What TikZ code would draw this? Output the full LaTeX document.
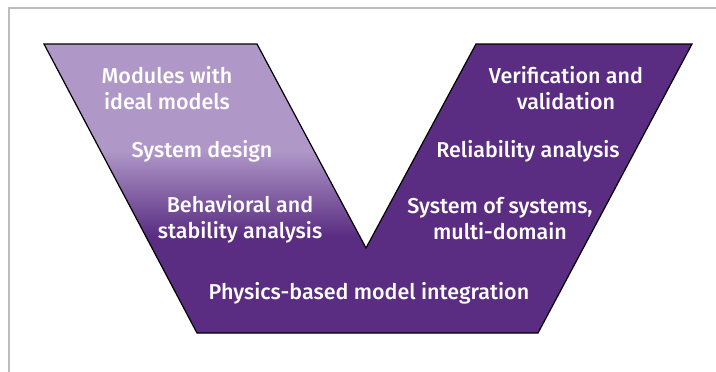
\documentclass[tikz,border=0pt]{standalone}
\usepackage{fontspec}
\setmainfont{Fira Sans}[UprightFont=* Medium]
\definecolor{vdark}{HTML}{5A2D82}
\definecolor{vlight}{HTML}{AF97C7}
\definecolor{framegray}{HTML}{BDBDBD}
\begin{document}
\begin{tikzpicture}[x=1pt,y=-1pt,
  lbl/.style={text=white, font=\fontsize{21.5}{26}\selectfont, align=center, inner sep=0pt},
  vline/.style={draw=black, line width=1.2pt, line join=miter}]
\useasboundingbox (0,0) rectangle (716,372);
\draw[framegray, line width=2.5pt] (9,372) -- (9,8) -- (716,8);
\fill[vdark] (44,44) -- (257,44) -- (366,248) -- (476,44) -- (692,44) -- (538,333) -- (197,333) -- cycle;
\begin{scope}
  \clip (44,44) -- (257,44) -- (366,248) -- (366,333) -- (197,333) -- cycle;
  \fill[vlight] (40,40) rectangle (370,152);
  \shade[top color=vlight, bottom color=vdark] (40,151) rectangle (370,236);
\end{scope}
\draw[vline] (44,44) -- (257,44) -- (366,248) -- (476,44) -- (692,44) -- (538,333) -- (197,333) -- cycle;
\node[lbl] (mod) at (167,88) {Modules with\\ideal models};
\node[lbl] (sys) at (202,151) {System design};
\node[lbl] (beh) at (240,219) {Behavioral and\\stability analysis};
\node[lbl] (phy) at (369,293) {Physics-based model integration};
\node[lbl] (ver) at (566,88) {Verification and\\validation};
\node[lbl] (rel) at (528,151) {Reliability analysis};
\node[lbl] (sos) at (500,219) {System of systems,\\multi-domain};
\end{tikzpicture}
\end{document}
